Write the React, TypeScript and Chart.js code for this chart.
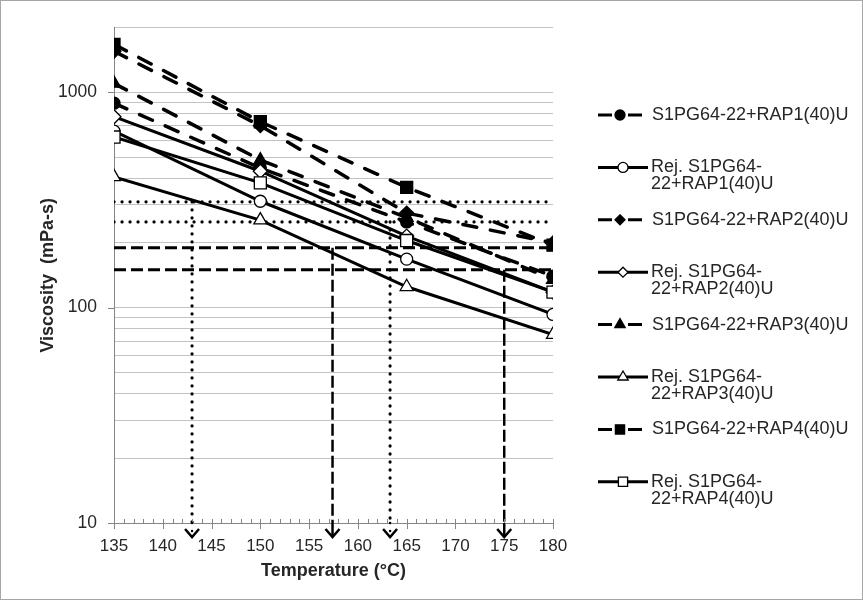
import React, { useEffect, useRef } from 'react';
import { Chart, registerables } from 'chart.js';
Chart.register(...registerables);

// ---------- data ----------
const temperatures = [135, 150, 165, 180];
const rap1 = [890, 445, 250, 140];
const rejRap1 = [660, 312, 168, 93];
const rap2 = [1550, 700, 275, 200];
const rejRap2 = [770, 430, 215, 118];
const rap3 = [1100, 485, 262, 135];
const rejRap3 = [405, 255, 125, 75];
const rap4 = [1670, 730, 362, 195];
const rejRap4 = [620, 380, 205, 118];

const seriesLabels = [
  ['S1PG64-22+RAP1(40)U'],
  ['Rej. S1PG64-', '22+RAP1(40)U'],
  ['S1PG64-22+RAP2(40)U'],
  ['Rej. S1PG64-', '22+RAP2(40)U'],
  ['S1PG64-22+RAP3(40)U'],
  ['Rej. S1PG64-', '22+RAP3(40)U'],
  ['S1PG64-22+RAP4(40)U'],
  ['Rej. S1PG64-', '22+RAP4(40)U'],
];

const xMin = 135;
const xMax = 180;
const xStep = 5;
const yMin = 10;
const yMax = 2000;
const yTickLabels = [10, 100, 1000];

// reference limits (dotted: compaction, dashed: mixing)
const compactionLimits = [310, 250];
const compactionTemps = [143, 163.3];
const mixingLimits = [190, 150];
const mixingTemps = [157.4, 175];

const xTitle = 'Temperature (°C)';
const yTitle = 'Viscosity  (mPa-s)';

// ---------- styles ----------
const seriesValues = [rap1, rejRap1, rap2, rejRap2, rap3, rejRap3, rap4, rejRap4];
const pointStyles = ['circle', 'circle', 'rectRot', 'rectRot', 'triangle', 'triangle', 'rect', 'rect'];
const radius: Record<string, number> = { circle: 6, rectRot: 7, triangle: 7.5, rect: 8.5 };
const legendRadius: Record<string, number> = { circle: 5, rectRot: 5, triangle: 6, rect: 6.5 };
const FONT = '"Liberation Sans", Arial, sans-serif';
const TEXT = '#262626';
const SERIES_DASH = [14, 14];
const DOT = [0.1, 7.9];
const DASH = [12, 5];

function drawMarker(ctx: CanvasRenderingContext2D, style: string, x: number, y: number, r: number, filled: boolean) {
  ctx.save();
  ctx.setLineDash([]);
  ctx.beginPath();
  if (style === 'circle') {
    ctx.arc(x, y, r, 0, Math.PI * 2);
  } else if (style === 'rectRot') {
    ctx.moveTo(x, y - r); ctx.lineTo(x + r, y); ctx.lineTo(x, y + r); ctx.lineTo(x - r, y);
  } else if (style === 'triangle') {
    const a = (2 * Math.PI) / 3;
    ctx.moveTo(x, y - r);
    ctx.lineTo(x + Math.sin(a) * r, y - Math.cos(a) * r);
    ctx.lineTo(x + Math.sin(2 * a) * r, y - Math.cos(2 * a) * r);
  } else {
    const s = r * Math.SQRT1_2;
    ctx.rect(x - s, y - s, 2 * s, 2 * s);
  }
  ctx.closePath();
  ctx.fillStyle = filled ? '#000' : '#fff';
  ctx.fill();
  ctx.lineWidth = 1.3;
  ctx.strokeStyle = '#000';
  ctx.stroke();
  ctx.restore();
}

const decorPlugin = {
  id: 'decor',
  afterDraw(chart: any) {
    const { ctx, chartArea } = chart;
    const xs = chart.scales.x;
    const ys = chart.scales.y;
    ctx.save();
    // x axis ticks
    ctx.strokeStyle = '#868686';
    ctx.lineWidth = 1;
    ctx.setLineDash([]);
    for (let t = xMin; t <= xMax; t += 1) {
      const px = Math.round(xs.getPixelForValue(t)) + 0.5;
      const major = (t - xMin) % xStep === 0;
      ctx.beginPath();
      ctx.moveTo(px, chartArea.bottom - 4);
      ctx.lineTo(px, chartArea.bottom + (major ? 6 : 0));
      ctx.stroke();
    }
    // y axis major ticks
    for (const v of yTickLabels) {
      const py = Math.round(ys.getPixelForValue(v)) + 0.5;
      ctx.beginPath();
      ctx.moveTo(chartArea.left - 6, py);
      ctx.lineTo(chartArea.left, py);
      ctx.stroke();
    }
    // arrow extensions + heads
    const arrows = [
      ...compactionTemps.map((t) => ({ t, dash: DOT, cap: 'round' })),
      ...mixingTemps.map((t) => ({ t, dash: [12, 4], cap: 'butt' })),
    ];
    for (const a of arrows) {
      const px = xs.getPixelForValue(a.t);
      const b = chartArea.bottom;
      ctx.strokeStyle = '#000';
      ctx.lineWidth = 2.5;
      ctx.lineCap = a.cap;
      ctx.setLineDash(a.dash);
      ctx.beginPath();
      ctx.moveTo(px, b);
      ctx.lineTo(px, b + 13);
      ctx.stroke();
      ctx.setLineDash([]);
      ctx.lineCap = 'butt';
      ctx.lineJoin = 'miter';
      ctx.beginPath();
      ctx.moveTo(px - 7, b + 6);
      ctx.lineTo(px, b + 14);
      ctx.lineTo(px + 7, b + 6);
      ctx.stroke();
    }
    // legend
    const legendTop = 115;
    const legendStep = 52.4;
    const lineLeft = chartArea.right + 45;
    ctx.font = `18px ${FONT}`;
    ctx.textBaseline = 'middle';
    ctx.textAlign = 'left';
    seriesLabels.forEach((lines, i) => {
      const y = legendTop + i * legendStep;
      const dashed = i % 2 === 0;
      const lineRight = dashed ? lineLeft + 44 : lineLeft + 50;
      const mx = dashed ? lineLeft + 22 : lineLeft + 25;
      ctx.strokeStyle = '#000';
      ctx.lineWidth = 3;
      ctx.lineCap = 'butt';
      ctx.setLineDash(dashed ? [14, 16] : []);
      ctx.beginPath();
      ctx.moveTo(lineLeft, y);
      ctx.lineTo(lineRight, y);
      ctx.stroke();
      ctx.setLineDash([]);
      drawMarker(ctx, pointStyles[i], mx, y, legendRadius[pointStyles[i]], dashed);
      ctx.fillStyle = TEXT;
      const tx = dashed ? lineRight + 10 : lineRight + 3;
      lines.forEach((ln, j) => ctx.fillText(ln, tx, y + j * 17));
    });
    // outer border
    ctx.strokeStyle = '#a6a6a6';
    ctx.lineWidth = 1;
    ctx.strokeRect(0.5, 0.5, chart.width - 1, chart.height - 1);
    ctx.restore();
  },
};

export default function App() {
  const ref = useRef<HTMLCanvasElement | null>(null);
  useEffect(() => {
    if (!ref.current) return;
    Chart.defaults.font.family = FONT;
    const series = seriesValues.map((vals, i) => {
      const dashed = i % 2 === 0;
      const style = pointStyles[i];
      return {
        label: seriesLabels[i].join(''),
        data: temperatures.map((t, k) => ({ x: t, y: vals[k] })),
        borderColor: '#000',
        borderWidth: dashed ? 3.5 : 3,
        borderDash: dashed ? SERIES_DASH : [],
        borderCapStyle: dashed ? 'round' : 'butt',
        pointStyle: style,
        pointRadius: radius[style],
        pointBackgroundColor: dashed ? '#000' : '#fff',
        pointBorderColor: '#000',
        pointBorderWidth: 1.3,
        order: 100 - i,
      };
    });
    const refLine = (pts: { x: number; y: number }[], dotted: boolean) => ({
      label: '',
      data: pts,
      borderColor: '#000',
      borderWidth: dotted ? 3.2 : 3,
      borderDash: dotted ? DOT : DASH,
      borderCapStyle: dotted ? 'round' : 'butt',
      pointRadius: 0,
      order: 200,
    });
    const refs = [
      ...compactionLimits.map((v) => refLine([{ x: xMin, y: v }, { x: xMax, y: v }], true)),
      ...mixingLimits.map((v) => refLine([{ x: xMin, y: v }, { x: xMax, y: v }], false)),
      ...compactionTemps.map((t, i) => refLine([{ x: t, y: compactionLimits[i] }, { x: t, y: yMin }], true)),
      ...mixingTemps.map((t, i) => ({ ...refLine([{ x: t, y: mixingLimits[i] }, { x: t, y: yMin }], false), borderDash: [12, 4], borderWidth: 2.5 })),
    ];
    const chart = new Chart(ref.current, {
      type: 'line',
      data: { datasets: [...series, ...refs] as any },
      options: {
        responsive: false,
        animation: false,
        events: [],
        layout: { padding: { left: 0, top: 26, right: 310, bottom: 0 } },
        plugins: { legend: { display: false }, tooltip: { enabled: false } },
        scales: {
          x: {
            type: 'linear',
            min: xMin,
            max: xMax,
            afterFit: (s: any) => { s.height = 77; },
            grid: { display: false, drawTicks: false },
            border: { display: true, color: '#868686', width: 1 },
            ticks: { stepSize: xStep, padding: 13, color: TEXT, font: { size: 17 }, maxRotation: 0, autoSkip: false },
            title: { display: true, text: xTitle, color: TEXT, font: { size: 18, weight: 'bold' }, padding: { top: 18, bottom: 18 } },
          },
          y: {
            type: 'logarithmic',
            min: yMin,
            max: yMax,
            afterFit: (s: any) => { s.width = 114; },
            afterBuildTicks: (s: any) => {
              s.ticks = s.ticks.filter((t: any) => {
                const m = t.value / Math.pow(10, Math.floor(Math.log10(t.value) + 1e-9));
                return Math.abs(m - Math.round(m)) < 1e-6;
              });
            },
            grid: { color: '#c3c3c3', lineWidth: 1, drawTicks: false },
            border: { display: true, color: '#868686', width: 1 },
            ticks: {
              autoSkip: false,
              padding: 17,
              color: TEXT,
              font: { size: 17.5 },
              callback: (v: any) => (yTickLabels.some((t) => Math.abs(t - Number(v)) < 1e-6) ? String(v) : ''),
            },
            title: { display: true, text: yTitle, color: TEXT, font: { size: 18, weight: 'bold' }, padding: { top: 37, bottom: 37 } },
          },
        },
      } as any,
      plugins: [decorPlugin],
    });
    return () => chart.destroy();
  }, []);
  return (
    <div style={{ position: 'fixed', left: 0, top: 0, width: 863, height: 600, background: '#fff' }}>
      <canvas ref={ref} width={863} height={600} style={{ width: 863, height: 600, display: 'block' }} />
    </div>
  );
}
